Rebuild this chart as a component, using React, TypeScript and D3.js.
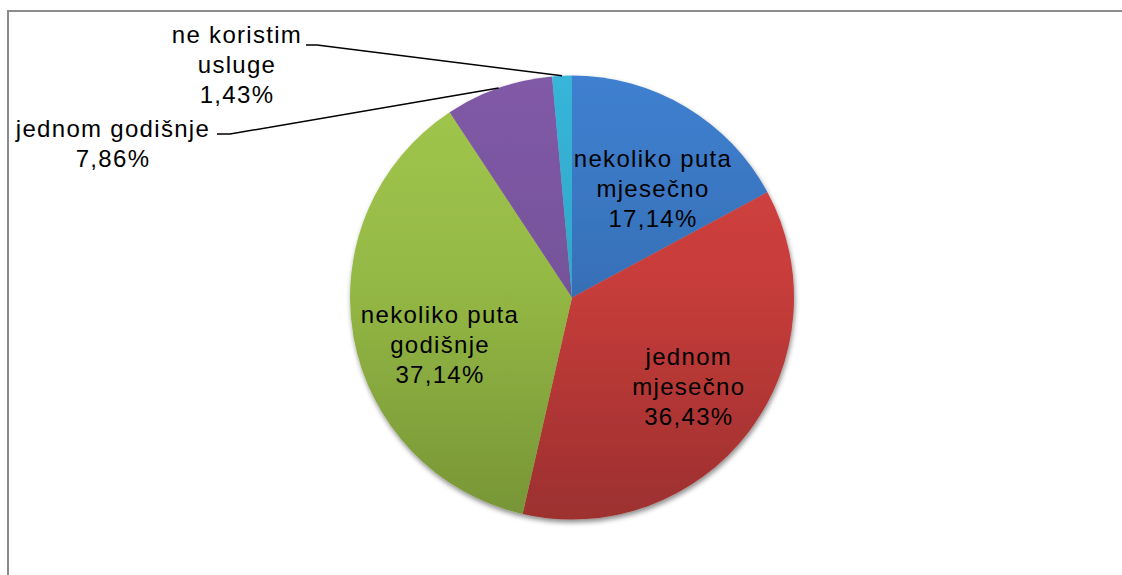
import React, { useEffect, useRef } from 'react';
import * as d3 from 'd3';

const categories = [
  'nekoliko puta mjesečno',
  'jednom mjesečno',
  'nekoliko puta godišnje',
  'jednom godišnje',
  'ne koristim usluge',
];
const labelLines = [
  ['nekoliko puta', 'mjesečno'],
  ['jednom', 'mjesečno'],
  ['nekoliko puta', 'godišnje'],
  ['jednom godišnje'],
  ['ne koristim', 'usluge'],
];
const percents = [17.14, 36.43, 37.14, 7.86, 1.43];

// colours: [top, middle, bottom] of the vertical gradient
const sliceColors = [
  ['#3f80d0', '#3771b9', '#29548e'],
  ['#d4433f', '#c83d3b', '#9c302f'],
  ['#a2c74d', '#95b945', '#779536'],
  ['#815aa7', '#76539b', '#5d417f'],
  ['#37b5d8', '#31a8ca', '#2786a2'],
];

const W = 1122;
const H = 575;
const cx = 572;
const cy = 297.5;
const R = 222;
const lineH = 30;

// label placement (offsets from slice centroid, or absolute for outside labels)
const insideNudge: Record<number, [number, number]> = { 0: [7, 15], 1: [2, 2], 2: [10, 22] };
const outsideLabel: Record<number, { x: number; y: number; lx0: number; lx1: number; ly: number }> = {
  3: { x: 113, y: 137, lx0: 217, lx1: 230, ly: 134 },
  4: { x: 237, y: 43, lx0: 306, lx1: 317, ly: 45 },
};

const fmt = (v: number) => v.toFixed(2).replace('.', ',') + '%';

export default function App() {
  const svgRef = useRef<SVGSVGElement>(null);

  useEffect(() => {
    if (!svgRef.current) return;
    const svg = d3.select(svgRef.current);
    svg.selectAll('*').remove();

    const defs = svg.append('defs');
    sliceColors.forEach((c, i) => {
      // userSpaceOnUse inside the translated group: pie spans -R..R
      const g = defs.append('linearGradient')
        .attr('id', `grad-${i}`)
        .attr('gradientUnits', 'userSpaceOnUse')
        .attr('x1', 0).attr('y1', -R)
        .attr('x2', 0).attr('y2', R);
      g.append('stop').attr('offset', '0%').attr('stop-color', c[0]);
      g.append('stop').attr('offset', '45%').attr('stop-color', c[1]);
      g.append('stop').attr('offset', '100%').attr('stop-color', c[2]);
    });
    const shadow = defs.append('filter').attr('id', 'shadow')
      .attr('x', '-10%').attr('y', '-10%').attr('width', '120%').attr('height', '120%');
    shadow.append('feDropShadow')
      .attr('dx', 1).attr('dy', 3).attr('stdDeviation', 2.5)
      .attr('flood-color', '#000').attr('flood-opacity', 0.45);

    // chart area border (right/bottom out of view)
    svg.append('rect')
      .attr('x', 8).attr('y', 11)
      .attr('width', W + 20).attr('height', H + 20)
      .attr('fill', 'none')
      .attr('stroke', '#8c8c8c')
      .attr('stroke-width', 2);

    const pie = d3.pie<number>().sort(null).value(d => d);
    const arcs = pie(percents);
    const arc = d3.arc<d3.PieArcDatum<number>>().innerRadius(0).outerRadius(R);
    const labelArc = d3.arc<d3.PieArcDatum<number>>().innerRadius(R * 0.65).outerRadius(R * 0.65);
    const edgeArc = d3.arc<d3.PieArcDatum<number>>().innerRadius(R).outerRadius(R);

    const g = svg.append('g').attr('transform', `translate(${cx},${cy})`);

    g.append('g')
      .attr('filter', 'url(#shadow)')
      .selectAll('path')
      .data(arcs)
      .join('path')
      .attr('d', arc)
      .attr('fill', (_, i) => `url(#grad-${i})`);

    const textStyle = (t: d3.Selection<SVGTextElement, unknown, null, undefined>) =>
      t.attr('font-family', '"Liberation Sans", Arial, sans-serif')
        .attr('font-size', 24)
        .attr('letter-spacing', 1.3)
        .attr('fill', '#000')
        .attr('text-anchor', 'middle');

    arcs.forEach((a, i) => {
      const lines = [...labelLines[i], fmt(percents[i])];
      if (insideNudge[i]) {
        const [x, y] = labelArc.centroid(a);
        const [nx, ny] = insideNudge[i];
        const t = g.append('text').call(textStyle);
        lines.forEach((s, k) => {
          t.append('tspan')
            .attr('x', x + nx)
            .attr('y', y + ny + (k - (lines.length - 1) / 2) * lineH + 8)
            .text(s);
        });
      } else {
        const o = outsideLabel[i];
        const t = svg.append('text').call(textStyle);
        lines.forEach((s, k) => {
          t.append('tspan').attr('x', o.x).attr('y', o.y + k * lineH).text(s);
        });
        const [ex, ey] = edgeArc.centroid(a);
        svg.append('path')
          .attr('d', `M${o.lx0},${o.ly}L${o.lx1},${o.ly}L${ex + cx},${ey + cy}`)
          .attr('fill', 'none')
          .attr('stroke', '#000')
          .attr('stroke-width', 1.5);
      }
    });

    svg.append('title').text(categories.join(', '));
  }, []);

  return (
    <svg
      ref={svgRef}
      width={W}
      height={H}
      style={{ position: 'absolute', left: 0, top: 0, background: '#fff' }}
    />
  );
}
